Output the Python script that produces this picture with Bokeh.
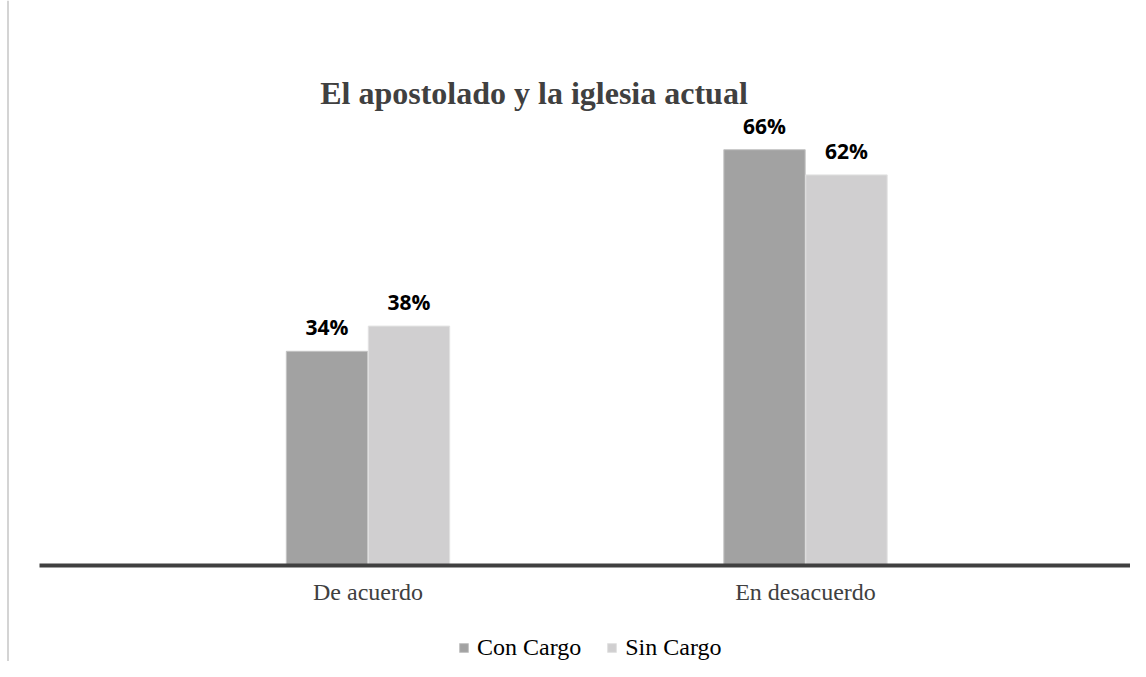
from bokeh.plotting import figure
from bokeh.models import (ColumnDataSource, Range1d, LinearAxis, FixedTicker, LabelSet,
                          Legend, LegendItem, Span, Label)
from bokeh.core.properties import value
from bokeh.transform import dodge
from bokeh.embed import file_html
from bokeh.resources import INLINE

# ---- data ----
categories = ["De acuerdo", "En desacuerdo"]
con_cargo = [34, 66]
sin_cargo = [38, 62]
series_names = ["Con Cargo", "Sin Cargo"]
title_text = "El apostolado y la iglesia actual"

W, H = 1130, 661
px_per_cat = 437.5
px_per_pct = 6.3
x0 = 0.5 - 367.5 / px_per_cat
y0 = -(H - 565) / px_per_pct

xpos = [i + 0.5 for i in range(len(categories))]
src = ColumnDataSource(dict(
    x=xpos, cat=categories, con=con_cargo, sin=sin_cargo,
    con_lbl=[f"{v}%" for v in con_cargo], sin_lbl=[f"{v}%" for v in sin_cargo],
))

p = figure(width=W, height=H, output_backend="svg", toolbar_location=None,
           x_range=Range1d(x0, x0 + W / px_per_cat), y_range=Range1d(y0, y0 + H / px_per_pct),
           x_axis_location=None, y_axis_location=None, min_border=0,
           outline_line_color=None, background_fill_color="white", border_fill_color="white")
p.grid.visible = False

bw = 0.186
off = 0.0937
r1 = p.vbar(x=dodge("x", -off, range=p.x_range), top="con", width=bw, bottom=0, source=src,
            fill_color="#a2a2a2", line_color="#c4c4c4", line_width=1)
r2 = p.vbar(x=dodge("x", off, range=p.x_range), top="sin", width=bw, bottom=0, source=src,
            fill_color="#d0cfd0", line_color="#e2e2e2", line_width=1)

lbl_style = dict(text_font=value("Open Sans"), text_font_style="bold", text_font_size="21px",
                 text_color="#000000", text_align="center", text_baseline="alphabetic", y_offset=16)
p.add_layout(LabelSet(x=dodge("x", -off, range=p.x_range), y="con", text="con_lbl", source=src, **lbl_style))
p.add_layout(LabelSet(x=dodge("x", off, range=p.x_range), y="sin", text="sin_lbl", source=src, **lbl_style))

ax = LinearAxis(ticker=FixedTicker(ticks=xpos),
                major_label_overrides={x: c for x, c in zip(xpos, categories)},
                fixed_location=0, bounds=(x0 + 39 / px_per_cat, x0 + 1133 / px_per_cat),
                axis_line_color="#404040", axis_line_width=4,
                major_tick_line_color=None, minor_tick_line_color=None,
                major_label_text_font="Liberation Serif", major_label_text_font_size="24px",
                major_label_text_color="#404040", major_label_standoff=7)
p.add_layout(ax, "below")

p.add_layout(Span(location=x0 + 7.5 / px_per_cat, dimension="height",
                  line_color="#d4d4d4", line_width=2))

p.add_layout(Label(x=x0 + 533.5 / px_per_cat, y=(565 - 92) / px_per_pct, text=title_text,
                   text_font="Liberation Serif", text_font_style="bold", text_font_size="32px",
                   text_color="#404040", text_align="center", text_baseline="alphabetic"))

legend = Legend(items=[LegendItem(label=series_names[0], renderers=[r1]),
                       LegendItem(label=series_names[1], renderers=[r2])],
                orientation="horizontal", location=(458, 0),
                glyph_width=11, glyph_height=11, label_standoff=8, spacing=25,
                padding=0, margin=0, border_line_color=None, background_fill_alpha=0,
                label_text_font="Liberation Serif", label_text_font_size="24px",
                label_text_color="#000000")
p.add_layout(legend)

open("out.html", "w").write(file_html(p, INLINE))
